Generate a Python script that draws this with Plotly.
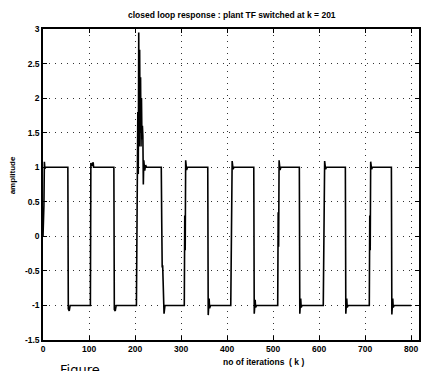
import plotly.graph_objects as go

# ---- data: vertices of the closed-loop response trace ----
k_vals = [0, 2, 3, 4, 6, 54, 55, 57, 59, 103, 104, 106, 109, 110, 154, 155, 157, 159,
          203, 204, 205, 206, 207, 208, 209, 210, 211, 212, 213, 214, 215, 216, 217, 218,
          219, 221, 223, 225,
          257, 258, 259, 260, 261, 263, 265,
          307, 308, 309, 310, 312, 314,
          358, 359, 361, 362, 364,
          408, 409, 410, 411, 413, 415,
          458, 459, 461, 462, 464,
          510, 511, 512, 513, 515, 517,
          557, 558, 560, 561, 563,
          609, 610, 611, 612, 614, 616,
          657, 658, 660, 661, 663,
          709, 710, 711, 712, 714, 716,
          757, 758, 760, 761, 763, 800]
amp_vals = [0, 0.45, 1.08, 0.98, 1, 1, -1.05, -1.08, -1, -1, 1.06, 1.02, 1.07, 1, 1, -1.06, -1.08, -1,
            -1, 0.2, -0.5, 1.8, 0.9, 2.95, 1.3, 2.7, 1.5, 2.3, 1.3, 2.0, 1.4, 1.6, 1.45, 0.75,
            1.1, 0.95, 1.03, 1.0,
            1.0, 0.2, -0.45, -0.42, -0.65, -1.12, -1.0,
            -1.0, 0.3, -0.2, 1.1, 0.96, 1.0,
            1.0, -1.14, -0.9, -1.04, -1.0,
            -1.0, 0.4, -0.1, 1.09, 0.97, 1.0,
            1.0, -1.12, -0.92, -1.03, -1.0,
            -1.0, 0.35, -0.15, 1.1, 0.96, 1.0,
            1.0, -1.12, -0.9, -1.03, -1.0,
            -1.0, 0.3, -0.2, 1.09, 0.97, 1.0,
            1.0, -1.12, -0.9, -1.03, -1.0,
            -1.0, 0.3, -0.2, 1.08, 0.97, 1.0,
            1.0, -1.13, -0.9, -1.03, -1.0, -1.0]

x_ticks = [0, 100, 200, 300, 400, 500, 600, 700, 800]
x_tick_labels = ["0", "100", "200", "300", "400", "500", "600", "700", "800"]
y_ticks = [-1.5, -1, -0.5, 0, 0.5, 1, 1.5, 2, 2.5, 3]
y_tick_labels = ["-1.5", "-1", "-0.5", "0", "0.5", "1", "1.5", "2", "2.5", "3"]

title_text = "closed loop response : plant TF switched at k = 201"
x_label = "no of iterations  ( k )"
y_label = "amplitude"
fig_note = "Figure"

FONT = "Liberation Sans"

fig = go.Figure()
fig.add_trace(go.Scatter(x=k_vals, y=amp_vals, mode="lines",
                         line=dict(color="black", width=1.6), showlegend=False,
                         hoverinfo="skip"))

axis_common = dict(
    ticks="inside", ticklen=4, tickcolor="black", tickwidth=1,
    showline=True, linecolor="black", linewidth=1.5, mirror="ticks",
    showgrid=True, gridcolor="#333333", gridwidth=1, griddash="1px,5px",
    zeroline=False,
    tickfont=dict(family=FONT, size=8.5, color="black", weight="bold"),
)

fig.update_xaxes(range=[0, 817], tickvals=x_ticks, ticktext=x_tick_labels, **axis_common)
fig.update_yaxes(range=[-1.5, 3], tickvals=y_ticks, ticktext=y_tick_labels, **axis_common)

fig.update_layout(
    width=432, height=371,
    margin=dict(l=43, r=11, t=29, b=31),
    paper_bgcolor="white", plot_bgcolor="white",
    annotations=[
        dict(text=title_text, xref="paper", yref="paper", x=0.503, y=1.045,
             xanchor="center", yanchor="middle", showarrow=False,
             font=dict(family=FONT, size=8.5, color="black", weight="bold")),
        dict(text=x_label, xref="paper", yref="paper", x=0.587, y=-0.071,
             xanchor="center", yanchor="middle", showarrow=False,
             font=dict(family=FONT, size=8.5, color="black", weight="bold")),
        dict(text=y_label, xref="paper", yref="paper", x=-0.082, y=0.53,
             xanchor="center", yanchor="middle", showarrow=False, textangle=-90,
             font=dict(family=FONT, size=8, color="black", weight="bold")),
        dict(text=fig_note, xref="paper", yref="paper", x=0.04, y=-0.064,
             xanchor="left", yanchor="top", showarrow=False,
             font=dict(family="DejaVu Sans", size=13, color="black")),
    ],
)

fig.write_html("out.html", config={"displayModeBar": False},
               post_script="document.body.style.margin='0';document.body.style.overflow='hidden';")
